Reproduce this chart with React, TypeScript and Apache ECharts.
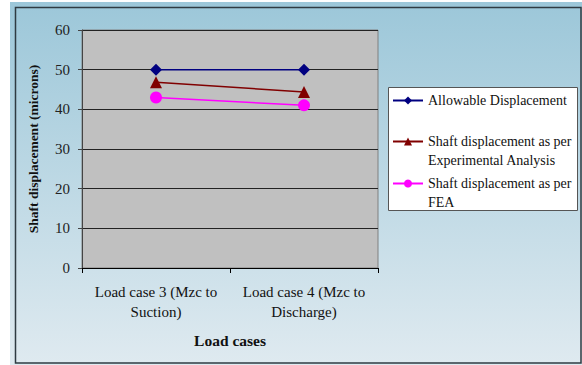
import React, { useEffect, useRef } from "react";
import * as echarts from "echarts";

const categories = ["Load case 3 (Mzc to\nSuction)", "Load case 4 (Mzc to\nDischarge)"];
const seriesNames = [
  "Allowable Displacement",
  "Shaft displacement as per\nExperimental Analysis",
  "Shaft displacement as per\nFEA",
];
const allowable = [50, 50];
const experimental = [46.8, 44.4];
const fea = [43, 41];
const yMin = 0;
const yMax = 60;
const yInterval = 10;
const xTitle = "Load cases";
const yTitle = "Shaft displacement (microns)";

const FONT = '"Liberation Serif", "Times New Roman", serif';

export default function App() {
  const ref = useRef<HTMLDivElement>(null);
  useEffect(() => {
    if (!ref.current) return;
    const chart = echarts.init(ref.current, undefined, { renderer: "svg" });
    const legendText = {
      fontFamily: FONT,
      fontSize: 14,
      color: "#111",
      lineHeight: 19,
    };
    const legendBase = {
      left: 392,
      padding: 0,
      itemWidth: 30,
      itemHeight: 10,
      itemGap: 0,
      width: 190,
      z: 5,
    };
    chart.setOption({
      animation: false,
      graphic: [
        {
          type: "rect",
          z: -10,
          silent: true,
          shape: { x: 10, y: 2, width: 572, height: 363 },
          style: {
            fill: new echarts.graphic.LinearGradient(0, 0, 0, 1, [
              { offset: 0, color: "#9cc7d9" },
              { offset: 1, color: "#dfeaf0" },
            ]),
          },
        },
        {
          type: "rect",
          z: -9,
          silent: true,
          shape: { x: 15.5, y: 7.5, width: 565.5, height: 355.5 },
          style: { fill: "none", stroke: "#2f3b42", lineWidth: 1.5 },
        },
        {
          type: "rect",
          z: 3,
          silent: true,
          shape: { x: 388.5, y: 87.5, width: 189, height: 123 },
          style: { fill: "#ffffff", stroke: "#555555", lineWidth: 1 },
        },
      ],
      legend: [
        {
          ...legendBase,
          data: [seriesNames[0]],
          top: 91,
          textStyle: legendText,
        },
        {
          ...legendBase,
          data: [seriesNames[1]],
          top: 113,
          formatter: (n: string) => "\n" + n,
          textStyle: legendText,
        },
        {
          ...legendBase,
          data: [seriesNames[2]],
          top: 155,
          formatter: (n: string) => "\n" + n,
          textStyle: legendText,
        },
      ],
      grid: {
        left: 82,
        top: 30,
        width: 296,
        height: 238,
        show: true,
        backgroundColor: "#c0c0c0",
        borderColor: "#808080",
        borderWidth: 1,
      },
      xAxis: {
        type: "category",
        data: categories,
        boundaryGap: true,
        name: xTitle,
        nameLocation: "middle",
        nameGap: 64,
        nameTextStyle: { fontFamily: FONT, fontSize: 15.5, fontWeight: "bold", color: "#111" },
        axisLine: { lineStyle: { color: "#000", width: 1 } },
        axisTick: { show: true, length: 5, lineStyle: { color: "#000" } },
        axisLabel: {
          fontFamily: FONT,
          fontSize: 15,
          color: "#111",
          lineHeight: 20,
          margin: 14,
          interval: 0,
        },
      },
      yAxis: {
        type: "value",
        min: yMin,
        max: yMax,
        interval: yInterval,
        name: yTitle,
        nameLocation: "middle",
        nameGap: 42,
        nameRotate: 90,
        nameTextStyle: { fontFamily: FONT, fontSize: 13.5, fontWeight: "bold", color: "#111" },
        axisLine: { show: true, lineStyle: { color: "#444", width: 1 } },
        axisTick: { show: true, length: 4, lineStyle: { color: "#444" } },
        axisLabel: { fontFamily: FONT, fontSize: 15, color: "#222", margin: 12 },
        splitLine: { show: true, lineStyle: { color: "#222", width: 1 } },
      },
      series: [
        {
          name: seriesNames[0],
          type: "line",
          data: allowable,
          symbol: "diamond",
          symbolSize: 12,
          color: "#000080",
          lineStyle: { color: "#000080", width: 1.5 },
          itemStyle: { color: "#000080" },
          z: 4,
        },
        {
          name: seriesNames[1],
          type: "line",
          data: experimental,
          symbol: "triangle",
          symbolSize: 12,
          color: "#800000",
          lineStyle: { color: "#800000", width: 1.5 },
          itemStyle: { color: "#800000" },
          z: 3,
        },
        {
          name: seriesNames[2],
          type: "line",
          data: fea,
          symbol: "circle",
          symbolSize: 12,
          color: "#ff00ff",
          lineStyle: { color: "#ff00ff", width: 1.5 },
          itemStyle: { color: "#ff00ff" },
          z: 3,
        },
      ],
    });
    return () => chart.dispose();
  }, []);
  return (
    <div
      ref={ref}
      style={{ position: "absolute", left: 0, top: 0, width: 582, height: 365 }}
    />
  );
}
